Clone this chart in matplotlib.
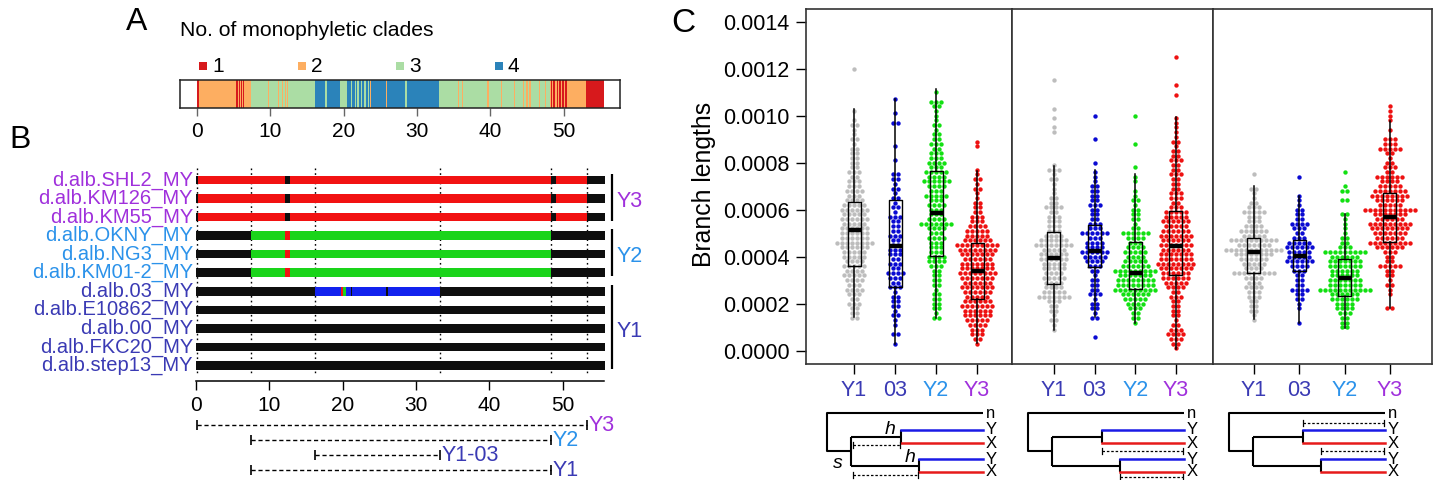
import numpy as np
import matplotlib
matplotlib.use("Agg")
import matplotlib.pyplot as plt
from matplotlib.ticker import FormatStrFormatter

plt.rcParams["font.family"] = ["Liberation Sans", "DejaVu Sans"]

W, H = 1439, 480

# ------------------------------------------------------------------------------ #
# Data
# ------------------------------------------------------------------------------ #
# A: number of monophyletic clades along the chromosome (Mb)
a_clades = [1, 2, 3, 4]
a_block_start = [0.0, 0.25, 7.35, 16.05, 19.5, 20.45, 33.05, 48.2, 53.05]
a_block_end = [0.25, 7.35, 16.05, 19.5, 20.45, 33.05, 48.2, 53.05, 55.5]
a_block_clade = [1, 2, 3, 4, 3, 4, 3, 2, 1]
a_stripe_pos = [5.45, 5.8, 6.05, 6.36, 9.77, 11.1, 11.7, 12.1, 12.3,
                17.6, 21.1, 21.6, 21.95, 22.4, 22.9, 23.4, 23.7, 25.8, 28.5,
                35.7, 36.2, 39.7, 41.5, 43.3, 44.5, 45.0, 45.4, 46.7, 47.5,
                48.3, 48.7, 49.2, 49.5, 49.9, 50.3]
a_stripe_clade = [1, 1, 1, 1, 2, 2, 2, 2, 2,
                  3, 3, 3, 3, 3, 3, 3, 2, 2, 3,
                  2, 2, 2, 2, 2, 2, 2, 2, 2, 2,
                  1, 1, 1, 1, 1, 1]

# B: haplotype tracks
b_names = ["d.alb.SHL2_MY", "d.alb.KM126_MY", "d.alb.KM55_MY", "d.alb.OKNY_MY",
           "d.alb.NG3_MY", "d.alb.KM01-2_MY", "d.alb.03_MY", "d.alb.E10862_MY",
           "d.alb.00_MY", "d.alb.FKC20_MY", "d.alb.step13_MY"]
b_groups = ["Y3"] * 3 + ["Y2"] * 3 + ["03"] + ["Y1"] * 4
b_bracket = ["Y3"] * 3 + ["Y2"] * 3 + ["Y1"] * 5
b_length = 55.8
b_seg_row = [0, 0, 0, 1, 1, 1, 2, 2, 2, 3, 3, 4, 4, 5, 5, 6, 6, 6, 6, 6]
b_seg_start = [0.3, 12.8, 49.1, 0.3, 12.8, 49.1, 0.3, 12.8, 49.1,
               7.5, 12.1, 7.5, 12.1, 7.5, 12.1, 16.2, 19.8, 20.1, 21.1, 25.9]
b_seg_end = [12.1, 48.4, 53.3, 12.1, 48.4, 53.3, 12.1, 48.4, 53.3,
             48.4, 12.8, 48.4, 12.8, 48.4, 12.8, 33.3, 20.1, 20.4, 21.3, 26.2]
b_seg_col = ["r", "r", "r", "r", "r", "r", "r", "r", "r",
             "g", "r", "g", "r", "g", "r", "b", "r", "g", "k", "k"]

r_labels = ["Y3", "Y2", "Y1-03", "Y1"]
r_start = [0.2, 7.5, 16.2, 7.5]
r_end = [53.3, 48.4, 33.3, 48.4]

# C: branch lengths (points per 0.00002 row, first row value in 1e-5)
c_groups = ["Y1", "03", "Y2", "Y3"]

p1_start = [14, 3, 14, 3]
p1_counts = [
    [2, 2, 2, 3, 2, 3, 4, 3, 4, 5, 4, 5, 4, 5, 5, 6, 8, 6, 6, 6, 5, 6, 5, 6, 5, 4, 3, 4, 3, 3,
     2, 3, 2, 2, 2, 2, 2, 1, 2, 1, 1, 2, 1, 0, 1, 0, 0, 0, 0, 0, 0, 0, 0, 1],
    [1, 0, 2, 0, 1, 1, 2, 1, 2, 2, 2, 1, 3, 2, 3, 4, 2, 3, 2, 3, 3, 2, 2, 3, 2, 2, 2, 3, 1, 2,
     1, 2, 1, 2, 1, 2, 2, 0, 0, 1, 0, 0, 1, 0, 0, 0, 0, 2, 0, 1, 0, 0, 1],
    [2, 1, 2, 2, 2, 2, 1, 2, 2, 2, 2, 3, 4, 4, 3, 3, 3, 4, 3, 4, 7, 4, 3, 3, 4, 3, 5, 3, 4, 6,
     4, 5, 3, 4, 3, 3, 2, 3, 2, 2, 1, 2, 1, 1, 1, 2, 3, 0, 1],
    [1, 2, 3, 3, 4, 5, 6, 6, 7, 6, 5, 6, 7, 6, 7, 8, 7, 7, 6, 7, 8, 9, 6, 5, 5, 4, 3, 3, 2, 2,
     2, 1, 1, 2, 1, 2, 1, 1, 0, 0, 0, 0, 1, 1],
]
p1_q1 = [36.2, 27.2, 40.3, 21.8]
p1_med = [51.3, 44.5, 58.7, 33.9]
p1_q3 = [63.4, 64.1, 76.5, 45.7]
p1_lo = [14.5, 2.8, 13.8, 3.1]
p1_hi = [103.0, 107.0, 111.2, 76.5]

p2_start = [9, 6, 12, 1]
p2_counts = [
    [1, 1, 2, 1, 2, 2, 3, 7, 5, 4, 4, 5, 4, 5, 5, 6, 6, 5, 8, 6, 4, 3, 3, 3, 3, 2, 4, 2, 2, 1,
     1, 1, 2, 1, 3, 1, 0, 0, 0, 0, 0, 0, 1, 1, 0, 1, 0, 1, 0, 0, 0, 0, 0, 1],
    [1, 0, 0, 0, 2, 1, 2, 2, 1, 3, 2, 2, 2, 1, 2, 3, 4, 5, 6, 4, 4, 3, 6, 3, 3, 2, 2, 2, 3, 2,
     2, 2, 2, 1, 1, 1, 0, 1, 0, 0, 0, 0, 1, 0, 0, 0, 0, 1],
    [1, 2, 2, 3, 4, 5, 6, 9, 8, 8, 7, 9, 6, 5, 4, 5, 4, 3, 4, 6, 2, 1, 2, 2, 2, 1, 2, 1, 1, 0,
     1, 1, 0, 1, 0, 0, 0, 0, 1, 0, 0, 0, 0, 0, 1],
    [1, 2, 3, 4, 3, 2, 1, 2, 2, 2, 2, 3, 2, 4, 5, 6, 6, 7, 8, 7, 7, 6, 7, 6, 7, 6, 5, 6, 5, 5,
     3, 2, 3, 3, 2, 2, 2, 3, 2, 2, 3, 2, 2, 1, 2, 1, 1, 1, 1, 1, 0, 0, 0, 0, 1, 0, 1, 0, 0, 0,
     0, 0, 1],
]
p2_q1 = [28.2, 35.7, 26.2, 32.1]
p2_med = [39.3, 42.6, 33.2, 44.5]
p2_q3 = [50.4, 53.5, 46.4, 59.4]
p2_lo = [8.8, 14.5, 11.6, 0.7]
p2_hi = [78.6, 76.9, 75.0, 99.6]

p3_start = [13, 12, 10, 18]
p3_counts = [
    [1, 1, 2, 2, 2, 3, 3, 4, 3, 4, 9, 4, 5, 6, 8, 12, 7, 10, 5, 6, 4, 3, 3, 5, 3, 2, 1, 1, 2, 0,
     0, 1],
    [1, 0, 0, 1, 1, 2, 2, 4, 2, 2, 2, 3, 4, 6, 5, 5, 6, 5, 3, 2, 3, 4, 2, 2, 2, 1, 1, 1, 0, 0,
     0, 1],
    [2, 2, 2, 3, 4, 4, 6, 6, 11, 7, 7, 6, 6, 7, 7, 6, 9, 3, 2, 2, 1, 1, 1, 1, 2, 0, 0, 2, 0, 2,
     1, 0, 0, 1],
    [2, 0, 0, 1, 1, 2, 1, 2, 2, 5, 2, 2, 3, 6, 9, 6, 7, 8, 9, 6, 7, 11, 5, 6, 8, 7, 5, 4, 6, 2,
     3, 2, 1, 2, 5, 3, 3, 0, 1, 0, 1, 1, 1, 1],
]
p3_q1 = [32.9, 33.9, 23.4, 46.4]
p3_med = [41.8, 40.3, 31.1, 57.0]
p3_q3 = [47.8, 47.1, 38.9, 67.2]
p3_lo = [13.3, 11.9, 9.5, 18.0]
p3_hi = [70.2, 66.0, 58.2, 97.7]

# ------------------------------------------------------------------------------ #
# Colours
# ------------------------------------------------------------------------------ #
clade_col = {1: "#D7191C", 2: "#FDAE61", 3: "#ABDDA4", 4: "#2B83BA"}
grp_txt = {"Y1": "#3a3ab4", "03": "#3a3ab4", "Y1-03": "#3a3ab4",
           "Y2": "#2b92ea", "Y3": "#a030dc"}
grp_pt = {"Y1": "#bdbdbd", "03": "#0a0ad2", "Y2": "#12e012", "Y3": "#ee1111"}
bar_col = {"k": "#0e0e0e", "r": "#f21212", "g": "#1ad41a", "b": "#1222ee"}

fig = plt.figure(figsize=(W / 100, H / 100), dpi=100)


def px_axes(x0, y0, x1, y1):
    return fig.add_axes([x0 / W, 1 - y1 / H, (x1 - x0) / W, (y1 - y0) / H])


ov = px_axes(0, 0, W, H)
ov.set_xlim(0, W)
ov.set_ylim(H, 0)
ov.axis("off")

# ------------------------------------------------------------------------------ #
# Panel A
# ------------------------------------------------------------------------------ #
ov.text(137, 22, "A", fontsize=23, ha="center", va="center")
ov.text(180, 30, "No. of monophyletic clades", fontsize=15.2, ha="left", va="center")
for i, c in enumerate(a_clades):
    ov.scatter(203 + 98.5 * i, 66, marker="s", s=34, color=clade_col[c], lw=0)
    ov.text(212 + 98.5 * i, 66, str(c), fontsize=15, ha="left", va="center")

axA = px_axes(180, 80, 620, 108)
axA.set_xlim(-2.32, 57.68)
axA.set_ylim(0, 1)
for s, e, c in zip(a_block_start, a_block_end, a_block_clade):
    axA.axvspan(s, e, color=clade_col[c], lw=0)
for p, c in zip(a_stripe_pos, a_stripe_clade):
    axA.axvspan(p - 0.09, p + 0.09, color=clade_col[c], lw=0)
axA.set_yticks([])
axA.set_xticks(range(0, 51, 10))
axA.tick_params(axis="x", length=5.8, width=1, color="#666666", labelsize=15, pad=4)
for sp in axA.spines.values():
    sp.set_linewidth(1.1)
    sp.set_color("#222222")

# ------------------------------------------------------------------------------ #
# Panel B
# ------------------------------------------------------------------------------ #
ov.text(20, 140, "B", fontsize=23, ha="center", va="center")

axB = px_axes(190, 165, 610, 381)
axB.set_xlim((190 - 196) / 7.333, (610 - 196) / 7.333)
axB.set_ylim((381 - 180) / 18.55, (165 - 180) / 18.55)
for i in range(len(b_names)):
    axB.barh(i, b_length, left=0, height=0.46, color=bar_col["k"], lw=0, zorder=2)
for r, s, e, c in zip(b_seg_row, b_seg_start, b_seg_end, b_seg_col):
    axB.barh(r, e - s, left=s, height=0.46, color=bar_col[c], lw=0, zorder=3)
cuts = sorted(set(r_start + r_end))
axB.vlines(cuts, -0.65, 10.4, colors="k", linestyles=(0, (1.2, 2.2)), lw=1, zorder=1)

for i, (name, g) in enumerate(zip(b_names, b_groups)):
    axB.text(-0.4, i, name, color=grp_txt[g], fontsize=14.5, ha="right", va="center")

for g in ["Y3", "Y2", "Y1"]:
    rows = [i for i, bb in enumerate(b_bracket) if bb == g]
    axB.plot([56.7, 56.7], [rows[0] - 0.35, rows[-1] + 0.2], color="k", lw=1.6,
             clip_on=False, solid_capstyle="butt")
    axB.text(57.3, np.mean(rows) + 0.15, g, color=grp_txt[g], fontsize=15.5,
             ha="left", va="center", clip_on=False)

for side in ["top", "left", "right"]:
    axB.spines[side].set_visible(False)
axB.spines["bottom"].set_bounds(0, 55.7)
axB.spines["bottom"].set_linewidth(1.1)
axB.set_yticks([])
axB.set_xticks(range(0, 51, 10))
axB.tick_params(axis="x", length=6.5, width=1, labelsize=15, pad=4)

axR = px_axes(190, 410, 610, 480)
axR.set_xlim(axB.get_xlim())
axR.set_ylim(3.667, -1.0)
axR.axis("off")
for i, (lab, s, e) in enumerate(zip(r_labels, r_start, r_end)):
    axR.hlines(i, s, e, colors="k", linestyles=(0, (3, 2)), lw=1)
    axR.vlines([s, e], i - 0.35, i + 0.35, colors="k", lw=1.2)
    axR.text(e + 0.2, i + 0.05, lab, color=grp_txt[lab], fontsize=15.5,
             ha="left", va="center")

# ------------------------------------------------------------------------------ #
# Panel C
# ------------------------------------------------------------------------------ #
ov.text(683, 23, "C", fontsize=24, ha="center", va="center")
ov.text(704, 184, "Branch lengths", fontsize=17.8, rotation=90, ha="center", va="center")

panels = [
    ((806, 1012), (-0.17, 4.85), p1_start, p1_counts, p1_q1, p1_med, p1_q3, p1_lo, p1_hi),
    ((1012, 1213), (-0.03, 4.91), p2_start, p2_counts, p2_q1, p2_med, p2_q3, p2_lo, p2_hi),
    ((1213, 1432), (0.095, 4.93), p3_start, p3_counts, p3_q1, p3_med, p3_q3, p3_lo, p3_hi),
]
ylo = -13.3 / (329 / 0.0014)
yhi = 0.0014 + 12.7 / (329 / 0.0014)

for k, (xpx, xl, starts, counts, q1, med, q3, lo, hi) in enumerate(panels):
    ax = px_axes(xpx[0], 9, xpx[1], 364)
    ax.set_xlim(xl)
    ax.set_ylim(ylo, yhi)
    px_unit = (xpx[1] - xpx[0]) / (xl[1] - xl[0])
    dx = 5.0 / px_unit
    for j, g in enumerate(c_groups):
        xs, ys = [], []
        for r, n in enumerate(counts[j]):
            v = (starts[j] + 2 * r) * 1e-5
            for m in range(n):
                xs.append(j + 1 + (m - (n - 1) / 2) * dx)
                ys.append(v)
        ax.scatter(xs, ys, s=10, color=grp_pt[g], lw=0, zorder=1)
    stats = [dict(q1=q1[j] * 1e-5, med=med[j] * 1e-5, q3=q3[j] * 1e-5,
                  whislo=lo[j] * 1e-5, whishi=hi[j] * 1e-5, fliers=[])
             for j in range(4)]
    ax.bxp(stats, positions=[1, 2, 3, 4], widths=13 / px_unit, showcaps=False,
           showfliers=False, manage_ticks=False,
           boxprops=dict(color="k", lw=1.0), whiskerprops=dict(color="k", lw=1.1),
           medianprops=dict(color="k", lw=3.2, solid_capstyle="butt"), zorder=3)
    ax.set_xticks([1, 2, 3, 4])
    ax.set_xticklabels(c_groups)
    for t, g in zip(ax.get_xticklabels(), c_groups):
        t.set_color(grp_txt[g])
    ax.tick_params(axis="x", length=7, width=1, labelsize=15.5, pad=4.5)
    if k == 0:
        ax.set_yticks(np.arange(0, 0.00141, 0.0002))
        ax.yaxis.set_major_formatter(FormatStrFormatter("%.4f"))
        ax.tick_params(axis="y", length=7, width=1, labelsize=15.5, pad=5)
    else:
        ax.set_yticks([])
    for sp in ax.spines.values():
        sp.set_linewidth(1.2)
        sp.set_color("#333333")

# small trees under panel C
tree_root_x = [827, 1028, 1229]
yn, yY1, yX1, yY2, yX2 = 413, 430, 443, 459, 472
blk = dict(color="k", lw=1.5, solid_capstyle="butt")


def dotted(x0, x1, y):
    ov.plot([x0, x1], [y, y], color="k", lw=0.9, ls=(0, (2, 1.5)))
    ov.plot([x0, x0], [y - 3, y + 3], color="k", lw=0.9)
    ov.plot([x1, x1], [y - 3, y + 3], color="k", lw=0.9)


for t, r in enumerate(tree_root_x):
    up = (yY1 + yX1) / 2
    lo_ = (yY2 + yX2) / 2
    mid = (up + lo_) / 2
    ix, ux, lx, ex = r + 24, r + 74, r + 92, r + 156
    ov.plot([ex, r, r, ix], [yn, yn, mid, mid], **blk)
    ov.plot([ix, ix], [up, lo_], **blk)
    ov.plot([ix, ux], [up, up], **blk)
    ov.plot([ux, ux], [yY1, yX1], **blk)
    ov.plot([ix, lx], [lo_, lo_], **blk)
    ov.plot([lx, lx], [yY2, yX2], **blk)
    ov.plot([ux, ex], [yY1, yY1], color="#1a1ae6", lw=1.8)
    ov.plot([ux, ex], [yX1, yX1], color="#e61a1a", lw=1.8)
    ov.plot([lx, ex], [yY2, yY2], color="#1a1ae6", lw=1.8)
    ov.plot([lx, ex], [yX2, yX2], color="#e61a1a", lw=1.8)
    for lab, y in zip(["n", "Y", "X", "Y", "X"], [yn, yY1, yX1, yY2, yX2]):
        ov.text(ex + 3, y, lab, fontsize=12, ha="left", va="center")
    if t == 0:
        dotted(ix + 2, ux - 1, 444.5)
        dotted(ix + 2, lx - 1, 474.5)
        ov.text(ux - 11, up - 7, "h", fontsize=14, style="italic", ha="center", va="center")
        ov.text(lx - 9, lo_ - 8, "h", fontsize=14, style="italic", ha="center", va="center")
        ov.text(r + 11, mid + 13, "s", fontsize=14, style="italic", ha="center", va="center")
    elif t == 1:
        dotted(ux, ex - 1, 451)
        dotted(lx, ex - 1, 477)
    else:
        dotted(ux, ex - 1, 423)
        dotted(lx, ex - 1, 451)

fig.savefig("out.png", dpi=100)
